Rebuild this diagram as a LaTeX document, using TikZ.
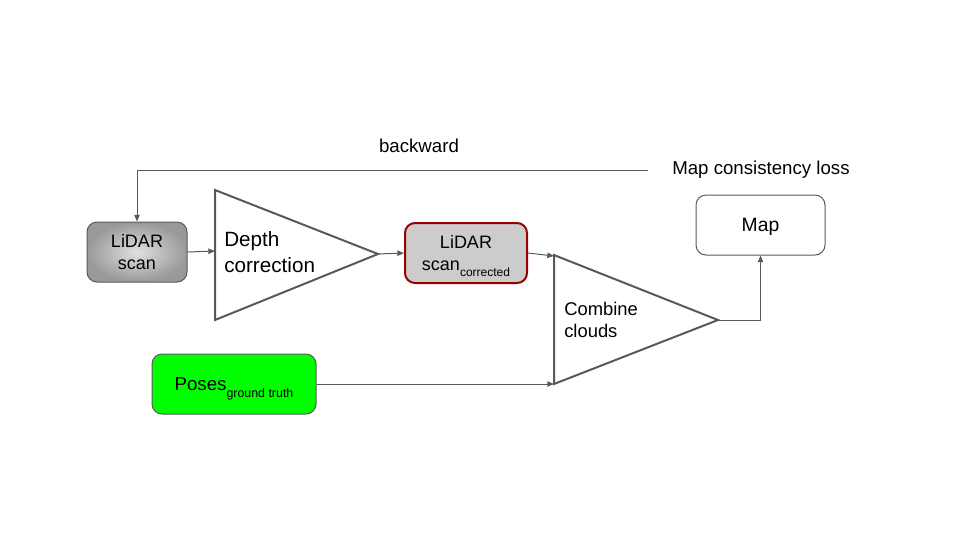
\documentclass[tikz,border=0pt]{standalone}
\usepackage{fontspec}
\setmainfont{Liberation Sans}
\usetikzlibrary{arrows.meta}

\definecolor{linegray}{RGB}{89,89,89}
\definecolor{boxred}{RGB}{153,0,0}
\definecolor{boxgray}{RGB}{204,204,204}
\definecolor{posegreen}{RGB}{0,255,0}

\tikzset{
  conn/.style={draw=linegray, line width=0.75pt, -{Triangle[length=5pt,width=4pt]}},
  tri/.style={draw=linegray, line width=1.5pt, line join=miter},
  box/.style={draw=linegray, line width=0.75pt, rounded corners=7.5pt, inner sep=0pt,
    minimum height=45pt, align=center},
}

\begin{document}
\begin{tikzpicture}[x=0.75pt,y=0.75pt,yscale=-1,xscale=1]
\path[use as bounding box] (0,0) rectangle (960,540);

%Shape: Rounded Rect [id:scan]
\node (scan) [box, minimum width=75pt, shading=radial, inner color=white!88!black, outer color=white!60!black,
  font=\fontsize{13.5}{16}\selectfont] at (137,252) {LiDAR\\scan};
%Shape: Rounded Rect [id:corr]
\node (corr) [box, draw=boxred, line width=1.5pt, fill=boxgray, minimum width=91.5pt,
  font=\fontsize{13.5}{16}\selectfont] at (466,253) {LiDAR\\scan\smash{\raisebox{-5pt}{\fontsize{9}{10}\selectfont corrected}}};
%Shape: Rounded Rect [id:poses]
\node (poses) [box, fill=posegreen, minimum width=123pt] at (234,384)
  {\fontsize{14}{16}\selectfont Poses\smash{\raisebox{-5pt}{\fontsize{9.3}{10}\selectfont ground truth}}};
%Shape: Rounded Rect [id:map]
\node (map) [box, minimum width=96.75pt, text depth=0pt, font=\fontsize{14.5}{16}\selectfont] at (760.5,225) {Map};

%Shape: Triangle [id:depth]
\draw [tri] (215,190) -- (378,254) -- (215,320) -- cycle ;
\coordinate (dc in) at (215,251);
\coordinate (dc out) at (378,254);
%Shape: Triangle [id:combine]
\draw [tri] (554,255) -- (718,320) -- (554,384) -- cycle ;
\coordinate (cc in1) at (554,256);
\coordinate (cc in2) at (554,384);
\coordinate (cc out) at (718,320);

% Text Node
\node (dctext) [anchor=west, inner sep=0.75pt, align=left, font=\fontsize{15.5}{19.5}\selectfont] at (223,252) {Depth\\correction};
% Text Node
\node (cctext) [anchor=west, inner sep=0.75pt, align=left, font=\fontsize{13.8}{16.5}\selectfont] at (563,320) {Combine\\clouds};
% Text Node
\node (loss) [anchor=west, inner sep=0.75pt, font=\fontsize{14}{16}\selectfont] at (671,170) {Map consistency loss};
% Text Node
\node (back) [inner sep=0.75pt, font=\fontsize{14}{16}\selectfont] at (419,146) {backward};

%Straight Lines
\draw [conn] (scan.east) -- (dc in) ;
\draw [conn] (dc out) -- (corr.west) ;
\draw [conn] (corr.east) -- (cc in1) ;
\draw [conn] (poses.east) -- (cc in2) ;
\draw [conn] (cc out) -| (map.south) ;
\draw [conn] ([xshift=-17pt]loss.west) -| (scan.north) ;

\end{tikzpicture}
\end{document}
